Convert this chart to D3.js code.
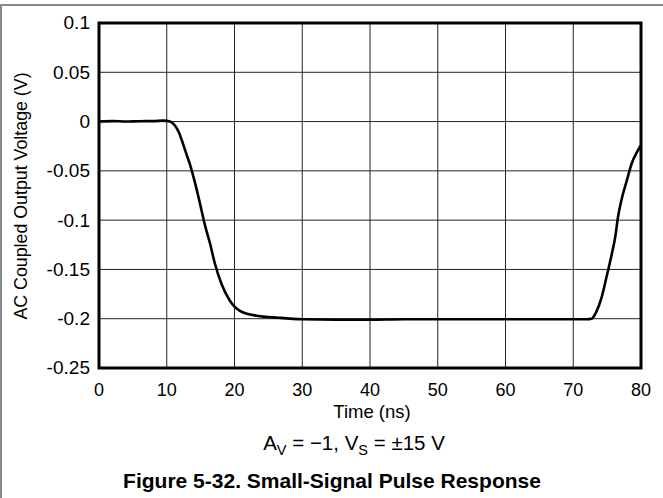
<!DOCTYPE html>
<html><head><meta charset="utf-8">
<script src="https://cdn.jsdelivr.net/npm/d3@7"></script>
<style>body{margin:0;background:#fff}svg{display:block}text{font-family:"Liberation Sans",Arial,sans-serif;fill:#000}</style>
</head><body><svg id="c" width="663" height="498"></svg>
<script>
const xTicks = [0,10,20,30,40,50,60,70,80];
const yTicks = [0.1,0.05,0,-0.05,-0.1,-0.15,-0.2,-0.25];
const yTickLabels = ["0.1","0.05","0","-0.05","-0.1","-0.15","-0.2","-0.25"];
const timeNs = [0,2,4,6,8,9.5,10.5,11.2,11.8,12.4,13.0,13.4,14.2,14.9,15.6,16.4,17.1,18.1,19.3,20.8,23.3,26.5,30,35,40,45,50,55,60,65,70,72.0,72.7,73.4,74.2,74.9,75.7,76.2,76.6,77.1,77.9,78.6,79.4,80];
const voltage = [0,0.0005,0,0.0004,0.0005,0.001,0.0,-0.004,-0.011,-0.0226,-0.035,-0.043,-0.063,-0.083,-0.104,-0.124,-0.144,-0.165,-0.1815,-0.192,-0.197,-0.199,-0.2005,-0.201,-0.201,-0.2005,-0.2005,-0.2005,-0.2005,-0.2005,-0.2005,-0.2005,-0.2,-0.193,-0.178,-0.158,-0.134,-0.117,-0.097,-0.080,-0.060,-0.043,-0.031,-0.024];
const xTitle = "Time (ns)";
const yTitle = "AC Coupled Output Voltage (V)";
const caption = "Figure 5-32. Small-Signal Pulse Response";

const svg = d3.select("#c");
const L=99,R=641,T=23,B=368;
const x = d3.scaleLinear().domain([0,80]).range([L,R]);
const y = d3.scaleLinear().domain([-0.25,0.1]).range([B,T]);

// outer border
svg.append("path").attr("d","M1,498V5H663").attr("fill","none").attr("stroke","#888").attr("stroke-width",2);

const g = svg.append("g");
g.selectAll(".vg").data(xTicks).join("line").attr("x1",d=>x(d)).attr("x2",d=>x(d)).attr("y1",T).attr("y2",B).attr("stroke","#222").attr("stroke-width",1);
g.selectAll(".hg").data(yTicks).join("line").attr("y1",d=>y(d)).attr("y2",d=>y(d)).attr("x1",L).attr("x2",R).attr("stroke","#222").attr("stroke-width",1);

const line = d3.line().x((d,i)=>x(timeNs[i])).y(d=>y(d)).curve(d3.curveMonotoneX);
g.append("path").attr("d",line(voltage)).attr("fill","none").attr("stroke","#000").attr("stroke-width",2.6).attr("stroke-linejoin","round");

g.append("rect").attr("x",L).attr("y",T).attr("width",R-L).attr("height",B-T).attr("fill","none").attr("stroke","#000").attr("stroke-width",3);

g.selectAll(".yl").data(yTicks).join("text").attr("transform",d=>`translate(90,${y(d)}) scale(1.06,1)`).attr("dy","0.36em").attr("text-anchor","end").attr("font-size",18).text((d,i)=>yTickLabels[i]);
g.selectAll(".xl").data(xTicks).join("text").attr("x",d=>x(d)).attr("y",396).attr("text-anchor","middle").attr("font-size",18).text(d=>d);
svg.append("text").attr("x",372).attr("y",418).attr("text-anchor","middle").attr("font-size",18.5).text(xTitle);
svg.append("text").attr("transform","translate(27,196) rotate(-90)").attr("text-anchor","middle").attr("font-size",17.8).text(yTitle);
const sub = svg.append("text").attr("x",354).attr("y",450).attr("text-anchor","middle").attr("font-size",20.5);
sub.append("tspan").text("A");
sub.append("tspan").attr("font-size",14.5).attr("dy",5).text("V");
sub.append("tspan").attr("dy",-5).text(" = \u22121, V");
sub.append("tspan").attr("font-size",14.5).attr("dy",5).text("S");
sub.append("tspan").attr("dy",-5).text(" = \u00b115 V");
svg.append("text").attr("x",332).attr("y",488).attr("text-anchor","middle").attr("font-size",21).attr("font-weight","bold").text(caption);
</script></body></html>
